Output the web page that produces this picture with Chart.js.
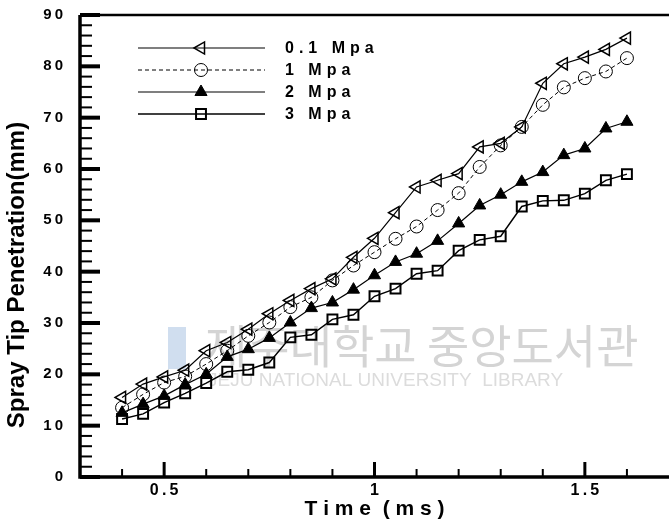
<!DOCTYPE html>
<html>
<head>
<meta charset="utf-8">
<script src="https://cdn.jsdelivr.net/npm/chart.js@4.4.1/dist/chart.umd.min.js"></script>
<style>
  html, body { margin: 0; padding: 0; background: #fff; }
  #wrap { width: 669px; height: 525px; }
</style>
</head>
<body>
<div id="wrap"><canvas id="myChart" width="669" height="525"></canvas></div>
<script>
// time (ms)
var times = [0.4, 0.45, 0.5, 0.55, 0.6, 0.65, 0.7, 0.75, 0.8, 0.85, 0.9, 0.95, 1.0,
             1.05, 1.1, 1.15, 1.2, 1.25, 1.3, 1.35, 1.4, 1.45, 1.5, 1.55, 1.6];

// spray tip penetration (mm)
var p01 = [15.5, 18.1, 19.5, 20.8, 24.6, 26.2, 28.8, 31.8, 34.4, 36.7, 38.6, 42.8, 46.5,
           51.5, 56.5, 57.8, 59.1, 64.3, 65.0, 68.2, 76.7, 80.5, 81.8, 83.3, 85.5];
var p1  = [13.5, 16.1, 18.4, 19.6, 22.0, 24.6, 27.5, 30.1, 33.1, 35.0, 38.3, 41.2, 43.8,
           46.4, 48.8, 52.0, 55.3, 60.4, 64.6, 68.2, 72.5, 75.9, 77.7, 79.0, 81.6];
var p2  = [12.5, 14.2, 15.8, 18.0, 20.0, 23.4, 24.9, 27.1, 30.1, 32.9, 34.0, 36.5, 39.3,
           41.9, 43.5, 46.0, 49.4, 52.9, 55.0, 57.5, 59.4, 62.7, 64.0, 67.9, 69.2];
var p3  = [11.3, 12.3, 14.5, 16.3, 18.3, 20.5, 20.9, 22.3, 27.2, 27.7, 30.7, 31.6, 35.2,
           36.7, 39.6, 40.2, 44.1, 46.2, 46.9, 52.7, 53.8, 53.9, 55.2, 57.8, 59.0];

var seriesNames = ['0.1 Mpa', '1 Mpa', '2 Mpa', '3 Mpa'];
var xTicks = [0.5, 1, 1.5];
var yTicks = [0, 10, 20, 30, 40, 50, 60, 70, 80, 90];

function pts(ys) {
    return times.map(function (t, i) { return { x: t, y: ys[i] }; });
}
function spaced(v) {
    return String(v).split('').join('\u2009');
}

var styles = [
    { pointStyle: 'triangle', rotation: -90, radius: 7, fill: 'rgba(0,0,0,0)', bw: 1.5, lw: 1.2, dash: [] },
    { pointStyle: 'circle', rotation: 0, radius: 6.5, fill: 'rgba(0,0,0,0)', bw: 1, lw: 1, dash: [4, 3] },
    { pointStyle: 'triangle', rotation: 0, radius: 7, fill: '#000', bw: 1, lw: 1.2, dash: [] },
    { pointStyle: 'rect', rotation: 0, radius: 7, fill: 'rgba(0,0,0,0)', bw: 2, lw: 1.4, dash: [] }
];
var allData = [p01, p1, p2, p3];

var datasets = allData.map(function (d, i) {
    var s = styles[i];
    return {
        label: seriesNames[i],
        data: pts(d),
        borderColor: '#000',
        borderWidth: s.lw,
        borderDash: s.dash,
        pointStyle: s.pointStyle,
        pointRotation: s.rotation,
        pointRadius: s.radius,
        pointBackgroundColor: s.fill,
        pointBorderColor: '#000',
        pointBorderWidth: s.bw,
        tension: 0
    };
});

var watermark = {
    id: 'watermark',
    beforeDatasetsDraw: function (chart) {
        var ctx = chart.ctx;
        ctx.save();
        ctx.fillStyle = 'rgba(120,160,210,0.35)';
        ctx.fillRect(168, 327, 18, 42);
        ctx.fillStyle = '#d4d4d4';
        ctx.font = '46px "Noto Sans CJK KR"';
        ctx.textBaseline = 'middle';
        ctx.fillText('제주대학교 중앙도서관', 205, 346);
        ctx.fillStyle = '#dcdcdc';
        ctx.font = '19px "Liberation Sans"';
        ctx.fillText('JEJU NATIONAL UNIVERSITY  LIBRARY', 208, 381);
        ctx.restore();
    }
};

var frame = {
    id: 'frame',
    afterDraw: function (chart) {
        var ctx = chart.ctx, a = chart.chartArea;
        var xs = chart.scales.x, ys = chart.scales.y;
        ctx.save();
        ctx.strokeStyle = '#000';
        ctx.lineCap = 'butt';
        // frame
        ctx.lineWidth = 3.5;
        ctx.beginPath();
        ctx.moveTo(a.left, a.top);
        ctx.lineTo(a.left, a.bottom);
        ctx.lineTo(a.right, a.bottom);
        ctx.stroke();
        ctx.lineWidth = 2.5;
        ctx.beginPath();
        ctx.moveTo(a.left, a.top);
        ctx.lineTo(a.right, a.top);
        ctx.stroke();
        // y ticks
        for (var v = 0; v <= 90; v += 2) {
            var py = ys.getPixelForValue(v);
            var major = v % 10 === 0;
            ctx.lineWidth = major ? 4 : 2;
            ctx.beginPath();
            ctx.moveTo(a.left, py);
            ctx.lineTo(a.left + (major ? 20 : 12), py);
            ctx.stroke();
        }
        // x ticks
        for (var k = 4; k <= 16; k++) {
            var px = xs.getPixelForValue(k / 10);
            var big = k % 5 === 0;
            ctx.lineWidth = big ? 3 : 2;
            ctx.beginPath();
            ctx.moveTo(px, a.bottom);
            ctx.lineTo(px, a.bottom - (big ? 15 : 8));
            ctx.stroke();
        }
        // y title
        ctx.save();
        ctx.translate(17, 275);
        ctx.rotate(-Math.PI / 2);
        ctx.font = 'bold 24px "Liberation Sans"';
        ctx.textAlign = 'center';
        ctx.textBaseline = 'middle';
        ctx.fillStyle = '#000';
        ctx.fillText('Spray Tip Penetration(mm)', 0, 0);
        ctx.restore();
        // legend
        var ly = [48, 70, 92, 114];
        ctx.font = 'bold 16px "Liberation Sans"';
        ctx.letterSpacing = '5px';
        ctx.textBaseline = 'middle';
        for (var i = 0; i < 4; i++) {
            var s = styles[i];
            ctx.lineWidth = s.lw;
            ctx.setLineDash(s.dash);
            ctx.beginPath();
            ctx.moveTo(138, ly[i]);
            ctx.lineTo(265, ly[i]);
            ctx.stroke();
            ctx.setLineDash([]);
            ctx.fillStyle = s.fill;
            ctx.lineWidth = s.bw;
            Chart.helpers.drawPoint(ctx, {
                pointStyle: s.pointStyle, rotation: s.rotation,
                radius: s.radius, borderWidth: s.bw
            }, 201, ly[i]);
            ctx.fillStyle = '#000';
            ctx.fillText(seriesNames[i], 285, ly[i] + 1);
        }
        ctx.restore();
    }
};

new Chart(document.getElementById('myChart'), {
    type: 'line',
    data: { datasets: datasets },
    options: {
        responsive: false,
        animation: false,
        layout: { autoPadding: false, padding: { top: 15, right: 0, left: 0, bottom: 0 } },
        plugins: {
            legend: { display: false },
            tooltip: { enabled: false }
        },
        scales: {
            x: {
                type: 'linear',
                min: 0.3,
                max: 1.7,
                grid: { display: false },
                border: { display: false },
                afterBuildTicks: function (scale) {
                    scale.ticks = xTicks.map(function (v) { return { value: v }; });
                },
                afterFit: function (scale) {
                    scale.height = 48;
                    scale.paddingLeft = 0;
                    scale.paddingRight = 0;
                },
                ticks: {
                    color: '#000',
                    padding: -4,
                    maxRotation: 0,
                    font: { family: 'Liberation Sans', size: 16, weight: 'bold' },
                    callback: function (v) { return spaced(v); }
                },
                title: {
                    display: true,
                    text: 'T i m e  ( m s )',
                    color: '#000',
                    padding: { top: 0, bottom: 3 },
                    font: { family: 'Liberation Sans', size: 21, weight: 'bold' }
                }
            },
            y: {
                min: 0,
                max: 90,
                grid: { display: false },
                border: { display: false },
                afterBuildTicks: function (scale) {
                    scale.ticks = yTicks.map(function (v) { return { value: v }; });
                },
                afterFit: function (scale) {
                    scale.width = 80;
                    scale.paddingTop = 0;
                    scale.paddingBottom = 0;
                },
                ticks: {
                    color: '#000',
                    padding: 9,
                    font: { family: 'Liberation Sans', size: 15, weight: 'bold' },
                    callback: function (v) { return spaced(v); }
                }
            }
        }
    },
    plugins: [watermark, frame]
});
</script>
</body>
</html>
